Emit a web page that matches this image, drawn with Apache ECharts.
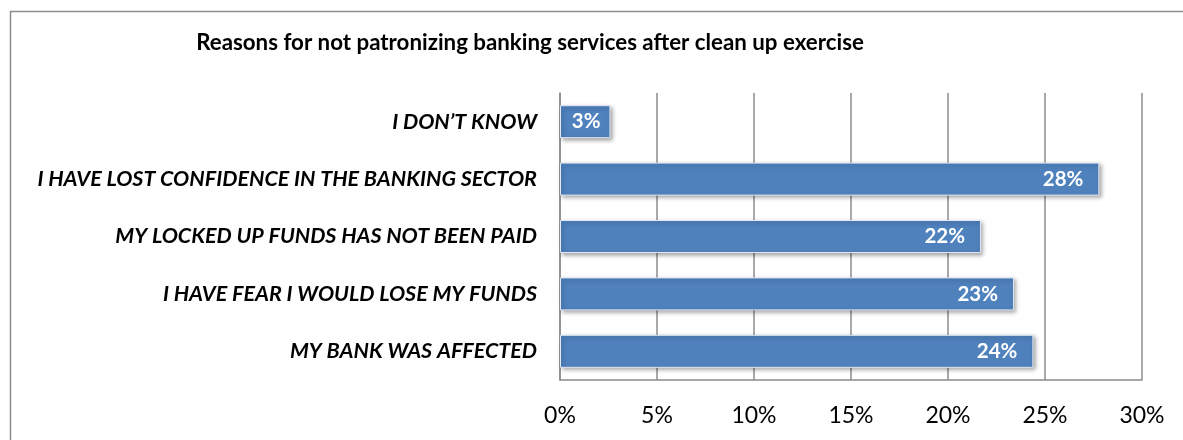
<!DOCTYPE html>
<html>
<head>
<meta charset="utf-8">
<script src="https://cdn.jsdelivr.net/npm/echarts@6/dist/echarts.min.js"></script>
<style>
  html, body { margin: 0; padding: 0; background: #fff; }
  #chart { width: 1183px; height: 440px; }
</style>
</head>
<body>
<div id="chart"></div>
<script>
// reasons, top to bottom as shown
const reasons = [
  'I DON\u2019T KNOW',
  'I HAVE LOST CONFIDENCE IN THE BANKING SECTOR',
  'MY LOCKED UP FUNDS HAS NOT BEEN PAID',
  'I HAVE FEAR I WOULD LOSE MY FUNDS',
  'MY BANK WAS AFFECTED'
];
// percent of respondents
const shares = [2.6, 27.8, 21.7, 23.4, 24.4];
const xTicks = [0, 5, 10, 15, 20, 25, 30];

const chart = echarts.init(document.getElementById('chart'));
const fontFam = 'Lato, "Open Sans", sans-serif';

chart.setOption({
  animation: false,
  backgroundColor: '#fff',
  title: {
    text: 'Reasons for not patronizing banking services after clean up exercise',
    left: 525,
    top: 27,
    textAlign: 'center',
    textStyle: { fontFamily: fontFam, fontWeight: 'bold', fontSize: 22.3, color: '#000' }
  },
  graphic: [{
    type: 'rect',
    shape: { x: 10.5, y: 11.5, width: 1200, height: 500 },
    style: { fill: 'none', stroke: '#8c8c8c', lineWidth: 1.5 },
    silent: true
  }],
  grid: { left: 560, right: 41, top: 93, bottom: 60 },
  xAxis: {
    type: 'value',
    min: xTicks[0],
    max: xTicks[xTicks.length - 1],
    interval: 5,
    axisLine: { show: true, lineStyle: { color: '#8c8c8c', width: 1.5 } },
    axisTick: { show: false },
    axisLabel: {
      formatter: v => v + '%',
      fontFamily: fontFam, fontSize: 23, color: '#000', margin: 24
    },
    splitLine: { show: true, lineStyle: { color: '#8c8c8c', width: 1.5 } }
  },
  yAxis: {
    type: 'category',
    data: reasons,
    inverse: true,
    axisLine: { show: true, lineStyle: { color: '#8c8c8c', width: 1.5 } },
    axisTick: { show: false },
    axisLabel: {
      fontFamily: fontFam, fontSize: 21.5, fontWeight: 'bold', fontStyle: 'italic',
      color: '#000', margin: 23
    }
  },
  series: [{
    type: 'bar',
    // short bars keep their label a little closer to the end
    data: shares.map(v => v < 5 ? { value: v, label: { distance: 10 } } : v),
    barWidth: 33,
    itemStyle: {
      color: '#4f81bd',
      borderColor: '#dfe8f3',
      borderWidth: 1,
      shadowColor: 'rgba(0,0,0,0.35)',
      shadowBlur: 4,
      shadowOffsetX: 2,
      shadowOffsetY: 2
    },
    label: {
      show: true,
      position: 'insideRight',
      distance: 16,
      formatter: p => Math.round(p.value) + '%',
      fontFamily: fontFam, fontSize: 20.5, fontWeight: 'bold', color: '#fff'
    }
  }]
});
</script>
</body>
</html>
